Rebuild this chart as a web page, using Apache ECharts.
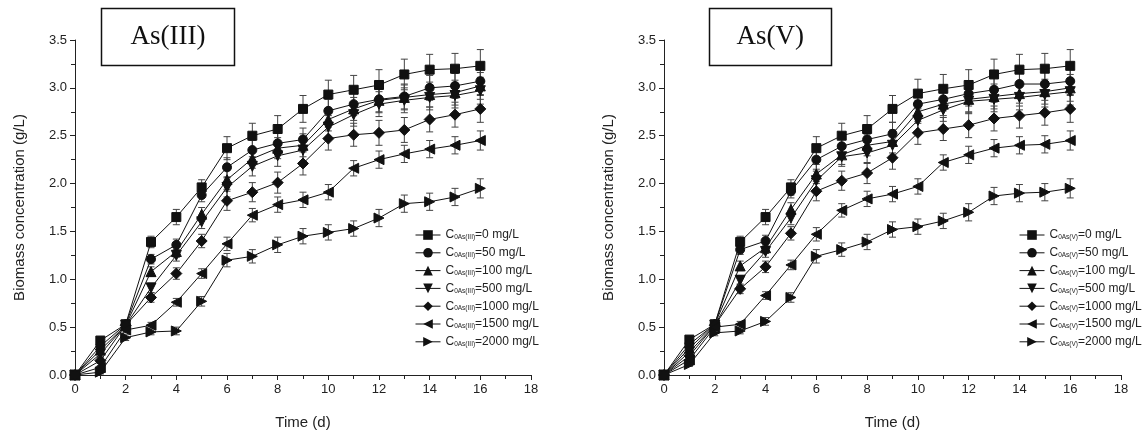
<!DOCTYPE html>
<html>
<head>
<meta charset="utf-8">
<script src="https://cdn.jsdelivr.net/npm/echarts@6/dist/echarts.min.js"></script>
<style>
html,body{margin:0;padding:0;background:#fff;}
#c{width:1146px;height:436px;}
</style>
</head>
<body>
<div id="c"></div>
<script>
// ---------- DATA ----------
const times = [0,1,2,3,4,5,6,7,8,9,10,11,12,13,14,15,16];
const concs = ['0','50','100','500','1000','1500','2000'];

// As(III) panel
const III_0    = [0,0.36,0.53,1.39,1.65,1.96,2.37,2.50,2.57,2.78,2.93,2.98,3.03,3.14,3.19,3.20,3.23];
const III_50   = [0,0.30,0.53,1.21,1.36,1.88,2.17,2.35,2.42,2.46,2.76,2.83,2.88,2.91,3.00,3.02,3.07];
const III_100  = [0,0.26,0.52,1.08,1.29,1.68,2.04,2.26,2.37,2.40,2.67,2.78,2.87,2.90,2.93,2.95,3.02];
const III_500  = [0,0.22,0.52,0.91,1.25,1.60,1.96,2.18,2.29,2.35,2.59,2.72,2.83,2.87,2.90,2.92,2.97];
const III_1000 = [0,0.15,0.52,0.81,1.06,1.40,1.82,1.91,2.01,2.21,2.47,2.51,2.53,2.56,2.67,2.72,2.78];
const III_1500 = [0,0.08,0.47,0.52,0.76,1.06,1.37,1.67,1.78,1.83,1.91,2.16,2.25,2.31,2.36,2.40,2.45];
const III_2000 = [0,0.03,0.39,0.45,0.46,0.77,1.20,1.24,1.36,1.45,1.49,1.53,1.64,1.79,1.81,1.86,1.95];

// As(V) panel
const V_0    = [0,0.37,0.53,1.39,1.65,1.96,2.37,2.50,2.57,2.78,2.94,2.99,3.03,3.14,3.19,3.20,3.23];
const V_50   = [0,0.32,0.53,1.31,1.40,1.92,2.25,2.39,2.46,2.52,2.83,2.88,2.94,2.98,3.04,3.04,3.07];
const V_100  = [0,0.28,0.53,1.14,1.33,1.73,2.10,2.30,2.40,2.44,2.75,2.83,2.88,2.91,2.94,2.96,3.00];
const V_500  = [0,0.24,0.52,0.99,1.29,1.64,2.03,2.28,2.32,2.40,2.66,2.77,2.86,2.88,2.90,2.93,2.96];
const V_1000 = [0,0.20,0.52,0.90,1.13,1.48,1.92,2.03,2.11,2.27,2.53,2.57,2.61,2.68,2.71,2.74,2.78];
const V_1500 = [0,0.16,0.50,0.53,0.83,1.15,1.47,1.72,1.84,1.89,1.97,2.22,2.30,2.37,2.40,2.41,2.45];
const V_2000 = [0,0.11,0.44,0.46,0.56,0.81,1.24,1.31,1.39,1.52,1.55,1.61,1.70,1.87,1.90,1.91,1.95];

// error bar half-widths (g/L)
const ERR_HIGH = [0,0.03,0.03,0.06,0.08,0.08,0.12,0.13,0.14,0.14,0.15,0.15,0.16,0.16,0.16,0.16,0.17];
const ERR_MID  = [0,0.03,0.03,0.05,0.06,0.07,0.10,0.10,0.11,0.12,0.12,0.12,0.13,0.13,0.13,0.13,0.14];
const ERR_LOW  = [0,0.02,0.03,0.03,0.04,0.05,0.07,0.07,0.08,0.08,0.08,0.08,0.09,0.09,0.09,0.09,0.10];

const xTicks = [0,2,4,6,8,10,12,14,16,18];
const yTicks = [0.0,0.5,1.0,1.5,2.0,2.5,3.0,3.5];

// ---------- CHART ----------
const symbols = ['rect','circle','triangle','triangle','diamond','triangle','triangle'];
const rotates = [0,0,0,180,0,90,-90];
const sizes   = [9,9,10,10,11,10,10];
const errSets = [ERR_HIGH,ERR_MID,ERR_MID,ERR_MID,ERR_MID,ERR_LOW,ERR_LOW];

const panels = [
  {sub:'0As(III)', title:'As(III)', data:[III_0,III_50,III_100,III_500,III_1000,III_1500,III_2000]},
  {sub:'0As(V)',   title:'As(V)',   data:[V_0,V_50,V_100,V_500,V_1000,V_1500,V_2000]}
];

const gridPos = [
  {left:75, top:40, width:456, height:335},
  {left:664, top:40, width:457, height:335}
];
const titlePos = [{left:101, padH:29.5}, {left:709, padH:27.5}];
const legendLeft = [415, 1019];

const FONT = 'Liberation Sans, Arial, sans-serif';

function errRender(params, api){
  const x = api.value(0), lo = api.value(1), hi = api.value(2);
  if (hi - lo <= 0) return null;
  const p1 = api.coord([x, lo]), p2 = api.coord([x, hi]);
  const w = 3.5;
  const st = {stroke:'#444', lineWidth:1};
  return {type:'group', children:[
    {type:'line', shape:{x1:p1[0], y1:p1[1], x2:p2[0], y2:p2[1]}, style:st},
    {type:'line', shape:{x1:p1[0]-w, y1:p1[1], x2:p1[0]+w, y2:p1[1]}, style:st},
    {type:'line', shape:{x1:p2[0]-w, y1:p2[1], x2:p2[0]+w, y2:p2[1]}, style:st}
  ]};
}

const grids=[], xAxes=[], yAxes=[], series=[], legends=[], titles=[];
panels.forEach((p, pi) => {
  grids.push(gridPos[pi]);
  xAxes.push({
    type:'value', gridIndex:pi, min:0, max:18, interval:2,
    name:'Time (d)', nameLocation:'middle', nameGap:40,
    nameTextStyle:{fontFamily:FONT, fontSize:15, color:'#222'},
    axisLine:{show:true, lineStyle:{color:'#222', width:1}},
    axisTick:{show:true, inside:false, length:5, lineStyle:{color:'#222'}},
    minorTick:{show:true, splitNumber:2, length:4, lineStyle:{color:'#222'}},
    splitLine:{show:false},
    axisLabel:{fontFamily:FONT, fontSize:13, color:'#222', margin:8,
      formatter: v => xTicks.includes(v) ? String(v) : ''}
  });
  yAxes.push({
    type:'value', gridIndex:pi, min:0, max:3.5, interval:0.5,
    name:'Biomass concentration (g/L)', nameLocation:'middle', nameGap:48,
    nameTextStyle:{fontFamily:FONT, fontSize:15, color:'#222'},
    axisLine:{show:true, lineStyle:{color:'#222', width:1}},
    axisTick:{show:true, inside:false, length:5, lineStyle:{color:'#222'}},
    minorTick:{show:true, splitNumber:2, length:4, lineStyle:{color:'#222'}},
    splitLine:{show:false},
    axisLabel:{fontFamily:FONT, fontSize:13, color:'#222', margin:8,
      formatter: v => yTicks.some(t => Math.abs(t - v) < 1e-9) ? v.toFixed(1) : ''}
  });
  const names = [];
  p.data.forEach((vals, si) => {
    const name = 'C' + p.sub + '=' + concs[si] + ' mg/L';
    names.push(name);
    const err = errSets[si];
    series.push({
      type:'custom', xAxisIndex:pi, yAxisIndex:pi, z:1, silent:true,
      renderItem: errRender,
      data: times.map((t, i) => [t, vals[i] - err[i], vals[i] + err[i]])
    });
    series.push({
      name, type:'line', xAxisIndex:pi, yAxisIndex:pi, z:3,
      symbol: symbols[si], symbolRotate: rotates[si], symbolSize: sizes[si],
      showAllSymbol:true,
      lineStyle:{color:'#111', width:1},
      itemStyle:{color:'#111', borderColor:'#111'},
      emphasis:{disabled:true},
      data: times.map((t, i) => [t, vals[i]])
    });
  });
  legends.push({
    data: names, orient:'vertical',
    left: legendLeft[pi], top: 229, padding:0,
    itemWidth:25, itemHeight:12, itemGap:5.8,
    formatter: n => {
      const rest = n.slice(1 + p.sub.length);
      return '{a|C}{s|' + p.sub + '}{a|' + rest + '}';
    },
    textStyle:{
      fontFamily:FONT, color:'#222', fontSize:12,
      rich:{
        a:{fontFamily:FONT, fontSize:12, color:'#222'},
        s:{fontFamily:FONT, fontSize:6.5, color:'#222', verticalAlign:'bottom', padding:[5,0,0,0]}
      }
    },
    itemStyle:{color:'#111'},
    lineStyle:{color:'#111', width:1},
    selectedMode:false
  });
  titles.push({
    text: p.title,
    left: titlePos[pi].left, top: 8,
    padding:[15.5, titlePos[pi].padH, 15.5, titlePos[pi].padH],
    borderColor:'#111', borderWidth:1.5,
    textStyle:{fontFamily:'Liberation Serif, Times New Roman, serif', fontSize:27, fontWeight:'normal', color:'#111'}
  });
});

const chart = echarts.init(document.getElementById('c'), null, {renderer:'canvas'});
chart.setOption({
  animation:false,
  backgroundColor:'#fff',
  title: titles,
  grid: grids,
  xAxis: xAxes,
  yAxis: yAxes,
  legend: legends,
  series: series
});
</script>
</body>
</html>
